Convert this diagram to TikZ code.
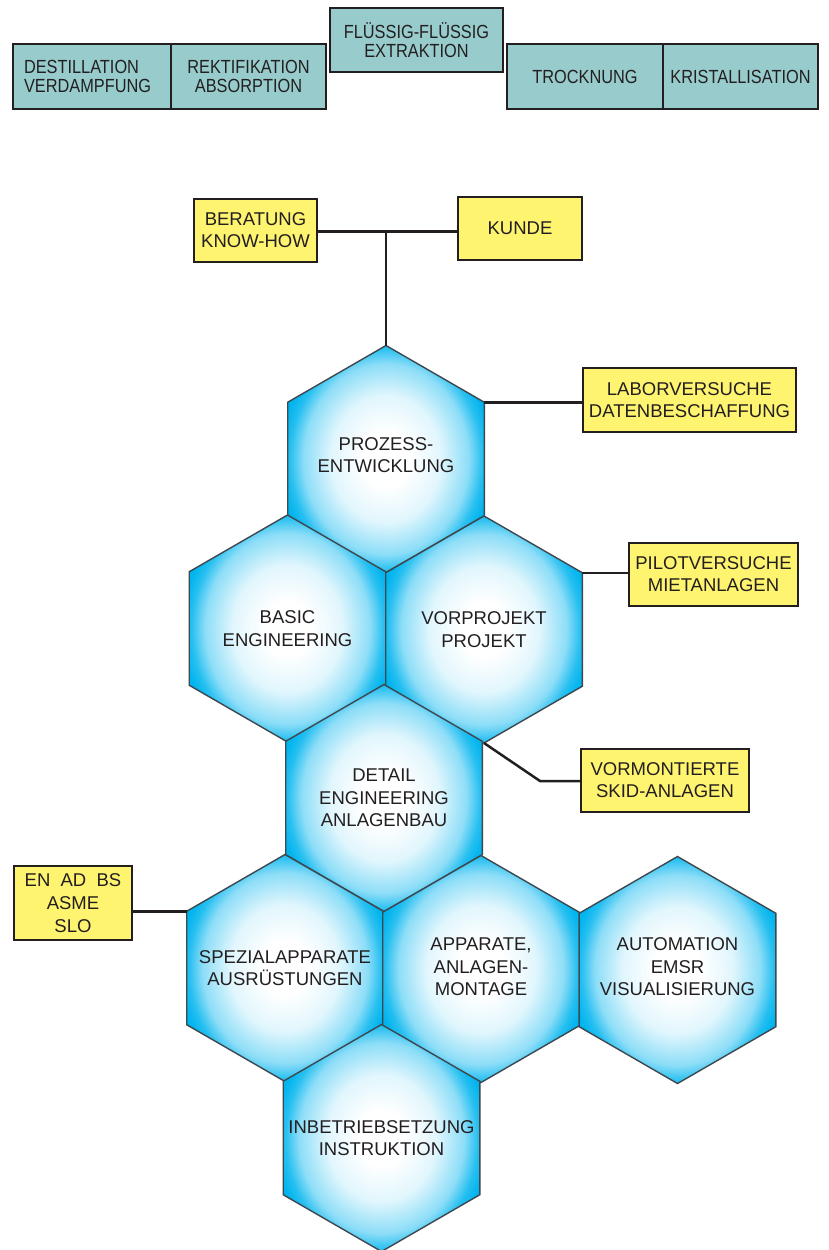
\documentclass[tikz,border=0pt]{standalone}
\usepackage{fontspec}
\setmainfont{Liberation Sans}
\newfontfamily\narrowfont{Liberation Sans}[FakeStretch=0.86]
\usetikzlibrary{shapes.geometric,calc}
\definecolor{ink}{RGB}{35,31,32}
\definecolor{tealfill}{RGB}{152,204,204}
\definecolor{yellfill}{RGB}{255,244,112}
\definecolor{hexedge}{RGB}{62,72,78}
\definecolor{hexcyan}{RGB}{0,180,238}
\colorlet{hcA}{hexcyan!12!white}
\colorlet{hcB}{hexcyan!45!white}
\colorlet{hcC}{hexcyan!85!white}
\pgfdeclareradialshading{hexshade}{\pgfpoint{0bp}{0bp}}{color(0bp)=(white); color(6bp)=(white); color(14bp)=(hcA); color(21bp)=(hcB); color(24.5bp)=(hcC); color(27bp)=(hexcyan); color(50bp)=(hexcyan)}
\tikzset{
  conn/.style={draw=ink, line width=2.5pt},
  tealbox/.style={draw=ink, line width=2.5pt, fill=tealfill, text=ink, align=center, inner sep=0pt, minimum height=65pt, font=\narrowfont\fontsize{19}{19.5}\selectfont},
  ybox/.style={draw=ink, line width=2.5pt, fill=yellfill, text=ink, align=center, inner sep=0pt, minimum height=63pt, font=\fontsize{18.5}{22}\selectfont},
  hexcell/.style={regular polygon, regular polygon sides=6, shape border rotate=30, minimum size=227pt, inner sep=0pt, outer sep=0pt, draw=hexedge, line width=1.4pt, shading=hexshade},
  hextext/.style={text=ink, align=center, inner sep=0pt, font=\fontsize{18.5}{22.5}\selectfont}
}
\begin{document}
\begin{tikzpicture}[x=1pt, y=-1pt]
\useasboundingbox (0,0) rectangle (828,1250);
% top process boxes
\node[tealbox, minimum width=158pt, text width=136pt, align=left] (b1) at (92,76.5) {DESTILLATION\\VERDAMPFUNG};
\node[tealbox, minimum width=155pt] (b2) at (248.5,76.5) {REKTIFIKATION\\ABSORPTION};
\node[tealbox, minimum width=173pt, minimum height=64pt] (b3) at (416.5,40) {FLÜSSIG-FLÜSSIG\\EXTRAKTION};
\node[tealbox, minimum width=156pt] (b4) at (585,76.5) {TROCKNUNG};
\node[tealbox, minimum width=155pt] (b5) at (740.5,76.5) {KRISTALLISATION};
% hexagons
\node[hexcell] (h1) at (386,459) {};
\node[hexcell] (h2) at (287.5,628.5) {};
\node[hexcell] (h3) at (484,629.5) {};
\node[hexcell] (h4) at (384,798) {};
\node[hexcell] (h5) at (285,968) {};
\node[hexcell] (h6) at (481,969) {};
\node[hexcell] (h7) at (677.5,970) {};
\node[hexcell] (h8) at (381.5,1138) {};
\node[hextext] (t1) at ($(h1)+(0,-4)$) {PROZESS-\\ENTWICKLUNG};
\node[hextext] (t2) at (h2) {BASIC\\ENGINEERING};
\node[hextext] (t3) at (h3) {VORPROJEKT\\PROJEKT};
\node[hextext] (t4) at (h4) {DETAIL\\ENGINEERING\\ANLAGENBAU};
\node[hextext] (t5) at (h5) {SPEZIALAPPARATE\\AUSRÜSTUNGEN};
\node[hextext] (t6) at ($(h6)+(0,-2)$) {APPARATE,\\ANLAGEN-\\MONTAGE};
\node[hextext] (t7) at ($(h7)+(0,-3)$) {AUTOMATION\\EMSR\\VISUALISIERUNG};
\node[hextext] (t8) at (h8) {INBETRIEBSETZUNG\\INSTRUKTION};
% yellow boxes
\node[ybox, minimum width=123pt] (berat) at (255.5,230.5) {BERATUNG\\KNOW-HOW};
\node[ybox, minimum width=124pt] (kunde) at (520,228.5) {KUNDE};
\node[ybox, minimum width=213pt, minimum height=64pt] (labor) at (689.5,400) {LABORVERSUCHE\\DATENBESCHAFFUNG};
\node[ybox, minimum width=169pt] (pilot) at (713.5,574.5) {PILOTVERSUCHE\\MIETANLAGEN};
\node[ybox, minimum width=168pt] (vorm) at (665,780.5) {VORMONTIERTE\\SKID-ANLAGEN};
\node[ybox, minimum width=118pt, minimum height=74pt, font=\fontsize{18.5}{23.3}\selectfont] (enad) at (73,903) {EN~~AD~~BS\\ASME\\SLO};
% connectors
\coordinate (tj) at (h1.north |- 0,231.5);
\draw[conn] (berat.east |- tj) -- (tj -| kunde.west);
\draw[conn] (tj) -- (h1.north);
\draw[conn] (h1.30) -- (h1.30 -| labor.west);
\draw[conn] (h3.30) -- (h3.30 -| pilot.west);
\coordinate (vb) at (540,781);
\draw[conn] (h3.south) -- (vb) -- (vorm.west |- vb);
\draw[conn] (h5.150 -| enad.east) -- (h5.150);
\end{tikzpicture}
\end{document}
